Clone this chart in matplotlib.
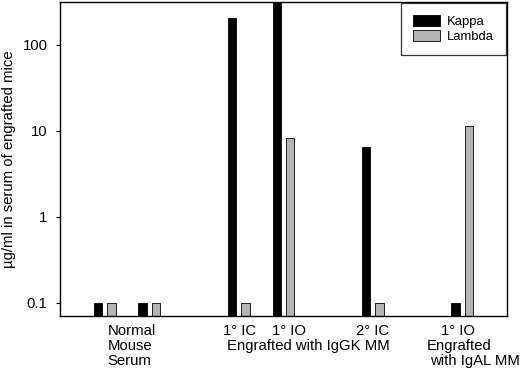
import numpy as np
import matplotlib.pyplot as plt
import matplotlib
matplotlib.rcParams['font.family'] = ['Liberation Sans', 'DejaVu Sans']

# group positions on the x axis and values (ug/ml)
pos = [1, 2, 4, 5, 7, 9]
kappa = [0.1, 0.1, 206, 400, 6.5, 0.1]
lam = [0.1, 0.1, 0.1, 8.3, 0.1, 11.4]
yticks = [0.1, 1, 10, 100]
ytick_labels = ['0.1', '1', '10', '100']

x = np.array(pos)
fig, ax = plt.subplots(figsize=(5.2, 3.69), dpi=100)
fig.subplots_adjust(left=0.1154, right=0.975, top=0.9946, bottom=0.1436)

ax.bar(x - 0.15, kappa, width=0.19, color='black', edgecolor='black', linewidth=0.6, label='Kappa')
ax.bar(x + 0.15, lam, width=0.19, color='#b4b4b4', edgecolor='black', linewidth=0.6, label='Lambda')

ax.set_yscale('log')
ax.set_ylim(0.07, 316)
ax.set_xlim(0, 10)
ax.set_yticks(yticks)
ax.set_yticklabels(ytick_labels)
ax.minorticks_off()
ax.set_xticks([])
fs = 10.7
ax.tick_params(axis='y', labelsize=fs, length=3, pad=6)
ax.set_ylabel('µg/ml in serum of engrafted mice', fontsize=fs)
ax.yaxis.set_label_coords(-0.098, 0.5)
for s in ax.spines.values():
    s.set_linewidth(1.0)

leg = ax.legend(loc='upper right', fontsize=9.4, frameon=True, fancybox=False,
                edgecolor='black', borderaxespad=0.1, handlelength=2.1,
                handleheight=0.9, handletextpad=0.5, borderpad=0.9, labelspacing=0.15)
leg.get_frame().set_linewidth(0.9)

tr = ax.get_xaxis_transform()
r1, r2, r3 = -0.0605, -0.108, -0.156
ax.text(1.06, r1, 'Normal', transform=tr, ha='left', va='baseline', fontsize=fs)
ax.text(1.06, r2, 'Mouse', transform=tr, ha='left', va='baseline', fontsize=fs)
ax.text(1.06, r3, 'Serum', transform=tr, ha='left', va='baseline', fontsize=fs)
ax.text(4.02, r1, '1° IC', transform=tr, ha='center', va='baseline', fontsize=fs)
ax.text(5.13, r1, '1° IO', transform=tr, ha='center', va='baseline', fontsize=fs)
ax.text(7.0, r1, '2° IC', transform=tr, ha='center', va='baseline', fontsize=fs)
ax.text(5.56, r2, 'Engrafted with IgGK MM', transform=tr, ha='center', va='baseline', fontsize=fs)
ax.text(8.9, r1, '1° IO', transform=tr, ha='center', va='baseline', fontsize=fs)
ax.text(8.21, r2, 'Engrafted', transform=tr, ha='left', va='baseline', fontsize=fs)
ax.text(8.28, r3, 'with IgAL MM', transform=tr, ha='left', va='baseline', fontsize=fs)

plt.savefig('out.png', dpi=100)
